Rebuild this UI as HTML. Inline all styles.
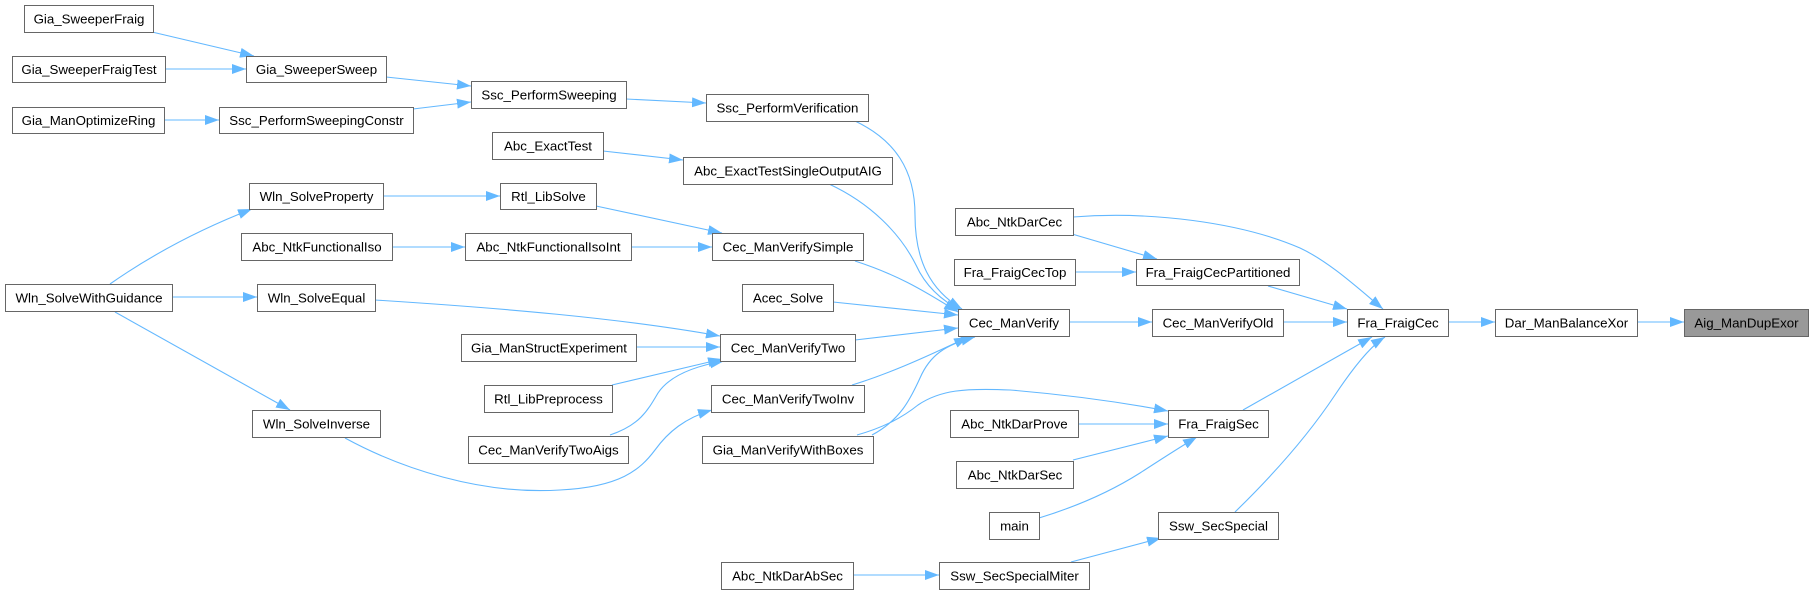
<!DOCTYPE html>
<html><head><meta charset="utf-8"><style>
html,body{margin:0;padding:0;background:#fff;}
svg{display:block;}
text{font-family:"Liberation Sans",Arial,sans-serif;font-size:13.3px;fill:#000;text-anchor:middle;}
.n{fill:#fff;stroke:#666;stroke-width:1;}
.e{fill:none;stroke:#63b8ff;stroke-width:1.1;marker-end:url(#ah);}
</style></head><body>
<svg width="1814" height="595" viewBox="0 0 1814 595" xmlns="http://www.w3.org/2000/svg">
<defs>
<marker id="ah" markerUnits="userSpaceOnUse" markerWidth="14" markerHeight="10" viewBox="0 0 14 10" refX="14" refY="5" orient="auto">
<path d="M0,0 L14,5 L0,10 Z" fill="#63b8ff"/>
</marker>
</defs>

<!-- edges -->
<path class="e" d="M152,32 L254,56"/>
<path class="e" d="M165,69 L246,69"/>
<path class="e" d="M386,77 L471,86"/>
<path class="e" d="M164,120 L219,120"/>
<path class="e" d="M413,109 L471,102"/>
<path class="e" d="M626,99 L706,103"/>
<path class="e" d="M855,121 C895,140 915,170 915,215 C915,260 930,290 962,309"/>
<path class="e" d="M603,151 L683,160"/>
<path class="e" d="M829,184 C870,203 900,233 916,265 C925,285 940,300 962,311"/>
<path class="e" d="M110,284 C140,263 185,235 252,209"/>
<path class="e" d="M383,196 L500,196"/>
<path class="e" d="M596,206 L722,233"/>
<path class="e" d="M392,247 L465,247"/>
<path class="e" d="M631,247 L712,247"/>
<path class="e" d="M855,261 C895,274 920,288 958,312"/>
<path class="e" d="M172,297 L257,297"/>
<path class="e" d="M375,300 C500,308 620,318 720,336"/>
<path class="e" d="M833,302 L958,315"/>
<path class="e" d="M636,347 L720,347"/>
<path class="e" d="M612,385 L722,359"/>
<path class="e" d="M610,435 C640,425 648,410 658,393 C670,375 695,366 724,361"/>
<path class="e" d="M855,340 L958,328"/>
<path class="e" d="M115,312 L290,410"/>
<path class="e" d="M345,438 C400,468 480,495 560,490 C620,487 640,470 655,450 C668,432 685,418 712,410"/>
<path class="e" d="M852,385 C885,375 920,360 968,337"/>
<path class="e" d="M872,435 C900,420 910,400 920,378 C930,355 945,345 975,337"/>
<path class="e" d="M857,435 C885,427 903,417 918,405 C940,390 965,388 1010,390 C1070,395 1120,402 1168,411"/>
<path class="e" d="M1069,322 L1152,322"/>
<path class="e" d="M1283,322 L1347,322"/>
<path class="e" d="M1072,234 L1157,259"/>
<path class="e" d="M1073,217 C1150,211 1240,222 1300,248 C1330,262 1360,290 1383,309"/>
<path class="e" d="M1075,272 L1136,272"/>
<path class="e" d="M1268,286 L1347,309"/>
<path class="e" d="M1078,424 L1168,424"/>
<path class="e" d="M1073,460 L1168,436"/>
<path class="e" d="M1039,518 C1075,507 1110,492 1140,473 C1160,460 1180,447 1197,437"/>
<path class="e" d="M1243,410 L1372,337"/>
<path class="e" d="M853,575 L939,575"/>
<path class="e" d="M1071,562 L1161,538"/>
<path class="e" d="M1235,512 C1270,478 1305,440 1335,395 C1355,365 1372,345 1385,337"/>
<path class="e" d="M1448,322 L1495,322"/>
<path class="e" d="M1637,322 L1684,322"/>

<!-- nodes -->
<rect class="n" x="24.5" y="5.5" width="129" height="27"/><text x="89" y="23.5">Gia_SweeperFraig</text>
<rect class="n" x="12.5" y="56.5" width="153" height="26"/><text x="89" y="74">Gia_SweeperFraigTest</text>
<rect class="n" x="246.5" y="56.5" width="140" height="26"/><text x="316.5" y="74">Gia_SweeperSweep</text>
<rect class="n" x="471.5" y="81.5" width="155" height="27"/><text x="549" y="99.5">Ssc_PerformSweeping</text>
<rect class="n" x="12.5" y="107.5" width="152" height="26"/><text x="88.5" y="125">Gia_ManOptimizeRing</text>
<rect class="n" x="219.5" y="107.5" width="194" height="26"/><text x="316.5" y="125">Ssc_PerformSweepingConstr</text>
<rect class="n" x="706.5" y="94.5" width="162" height="27"/><text x="787.5" y="112.5">Ssc_PerformVerification</text>
<rect class="n" x="492.5" y="132.5" width="111" height="27"/><text x="548" y="150.5">Abc_ExactTest</text>
<rect class="n" x="683.5" y="157.5" width="209" height="27"/><text x="788" y="175.5">Abc_ExactTestSingleOutputAIG</text>
<rect class="n" x="249.5" y="183.5" width="134" height="26"/><text x="316.5" y="201">Wln_SolveProperty</text>
<rect class="n" x="500.5" y="183.5" width="96" height="26"/><text x="548.5" y="201">Rtl_LibSolve</text>
<rect class="n" x="955.5" y="208.5" width="118" height="27"/><text x="1014.5" y="226.5">Abc_NtkDarCec</text>
<rect class="n" x="241.5" y="233.5" width="151" height="27"/><text x="317" y="251.5">Abc_NtkFunctionalIso</text>
<rect class="n" x="465.5" y="233.5" width="166" height="27"/><text x="548.5" y="251.5">Abc_NtkFunctionalIsoInt</text>
<rect class="n" x="712.5" y="233.5" width="151" height="27"/><text x="788" y="251.5">Cec_ManVerifySimple</text>
<rect class="n" x="954.5" y="259.5" width="121" height="26"/><text x="1015" y="277">Fra_FraigCecTop</text>
<rect class="n" x="1136.5" y="259.5" width="163" height="26"/><text x="1218" y="277">Fra_FraigCecPartitioned</text>
<rect class="n" x="5.5" y="284.5" width="167" height="27"/><text x="89" y="302.5">Wln_SolveWithGuidance</text>
<rect class="n" x="257.5" y="284.5" width="118" height="27"/><text x="316.5" y="302.5">Wln_SolveEqual</text>
<rect class="n" x="742.5" y="284.5" width="91" height="27"/><text x="788" y="302.5">Acec_Solve</text>
<rect class="n" x="958.5" y="309.5" width="111" height="27"/><text x="1014" y="327.5">Cec_ManVerify</text>
<rect class="n" x="1152.5" y="309.5" width="131" height="27"/><text x="1218" y="327.5">Cec_ManVerifyOld</text>
<rect class="n" x="1347.5" y="309.5" width="101" height="27"/><text x="1398" y="327.5">Fra_FraigCec</text>
<rect class="n" x="1495.5" y="309.5" width="142" height="27"/><text x="1566.5" y="327.5">Dar_ManBalanceXor</text>
<rect x="1684.5" y="309.5" width="124" height="27" fill="#999" stroke="#666" stroke-width="1"/><text x="1746.5" y="327.5">Aig_ManDupExor</text>
<rect class="n" x="461.5" y="334.5" width="175" height="27"/><text x="549" y="352.5">Gia_ManStructExperiment</text>
<rect class="n" x="720.5" y="334.5" width="135" height="27"/><text x="788" y="352.5">Cec_ManVerifyTwo</text>
<rect class="n" x="484.5" y="385.5" width="128" height="27"/><text x="548.5" y="403.5">Rtl_LibPreprocess</text>
<rect class="n" x="711.5" y="385.5" width="153" height="27"/><text x="788" y="403.5">Cec_ManVerifyTwoInv</text>
<rect class="n" x="252.5" y="410.5" width="128" height="27"/><text x="316.5" y="428.5">Wln_SolveInverse</text>
<rect class="n" x="950.5" y="410.5" width="128" height="27"/><text x="1014.5" y="428.5">Abc_NtkDarProve</text>
<rect class="n" x="1168.5" y="410.5" width="100" height="27"/><text x="1218.5" y="428.5">Fra_FraigSec</text>
<rect class="n" x="468.5" y="436.5" width="160" height="27"/><text x="548.5" y="454.5">Cec_ManVerifyTwoAigs</text>
<rect class="n" x="702.5" y="436.5" width="171" height="27"/><text x="788" y="454.5">Gia_ManVerifyWithBoxes</text>
<rect class="n" x="956.5" y="461.5" width="117" height="27"/><text x="1015" y="479.5">Abc_NtkDarSec</text>
<rect class="n" x="989.5" y="512.5" width="50" height="27"/><text x="1014.5" y="530.5">main</text>
<rect class="n" x="1158.5" y="512.5" width="120" height="27"/><text x="1218.5" y="530.5">Ssw_SecSpecial</text>
<rect class="n" x="721.5" y="562.5" width="132" height="27"/><text x="787.5" y="580.5">Abc_NtkDarAbSec</text>
<rect class="n" x="939.5" y="562.5" width="150" height="27"/><text x="1014.5" y="580.5">Ssw_SecSpecialMiter</text>
</svg>
</body></html>
